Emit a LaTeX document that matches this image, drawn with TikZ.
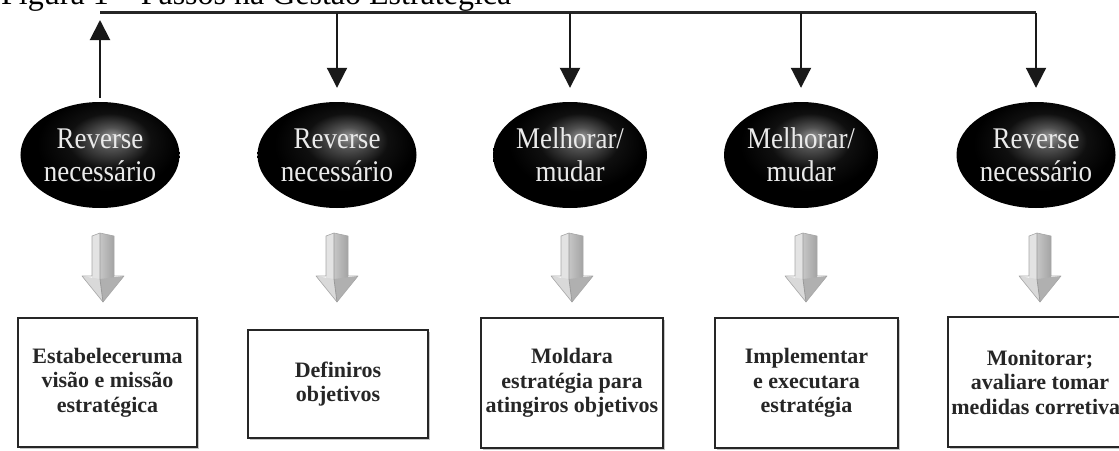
\documentclass[tikz,border=0pt]{standalone}
\usepackage{fontspec}
\setmainfont{Liberation Serif}
\newfontfamily\ovalfont[FakeStretch=0.9]{Liberation Serif}
\usetikzlibrary{arrows.meta,shapes.geometric,shadows}
\definecolor{ovaltext}{HTML}{EAEAEA}
\definecolor{boxtext}{HTML}{262626}
\pgfdeclareradialshading{ovalshade}{\pgfpoint{4bp}{9bp}}{color(0bp)=(black!42); color(5bp)=(black!68); color(13bp)=(black!94); color(22bp)=(black); color(50bp)=(black)}
\tikzset{
  oval/.style={ellipse, shade, shading=ovalshade, inner sep=0pt,
    minimum width=154pt, minimum height=106pt, text=ovaltext, align=center,
    font=\ovalfont\fontsize{30}{33}\selectfont},
  stepbox/.style={draw=black!85, line width=2pt, fill=white, align=center,
    inner sep=0pt, text=boxtext, font=\bfseries\fontsize{22}{24.5}\selectfont,
    drop shadow={shadow xshift=2pt, shadow yshift=-2pt, fill=black!45}},
  conn/.style={line width=2pt, draw=black!90, -{Triangle[length=20pt,width=20pt]}},
  topline/.style={line width=3pt, draw=black!85}
}
\newcommand\gradarrow[1]{%
  \begin{scope}[shift={(#1,-233)}]
    \fill[gray!22] (-11,-3) -- (-3,0) -- (-3,-46) -- (-11,-46) -- cycle;
    \shade[left color=gray!45, right color=gray!72] (-3,0) -- (11,-3) -- (11,-46) -- (-3,-46) -- cycle;
    \fill[gray!30] (-21,-43) -- (-3,-46) -- (0,-69) -- cycle;
    \fill[gray!62] (-3,-46) -- (21,-43) -- (0,-69) -- cycle;
    \draw[gray!70, line width=0.6pt, line join=round] (-11,-3) -- (-3,0) -- (11,-3) -- (11,-43) -- (21,-43) -- (0,-69) -- (-21,-43) -- (-11,-43) -- cycle;
    \draw[gray!80, line width=0.8pt] (-3,0) -- (-3,-46) -- (0,-69);
  \end{scope}}
\begin{document}
\begin{tikzpicture}[x=1pt,y=1pt]
\useasboundingbox (0,0) rectangle (1119,-450);
\clip (0,0) rectangle (1119,-450);
% title (cut at the top as in the reference)
\node[anchor=base west, inner sep=0pt, font=\fontsize{32}{36}\selectfont] (title) at (1,-4) {Figura 1 – Passos na Gestão Estratégica};
% ovals
\node[oval] (e1) at (100,-155) {Reverse\\necessário};
\node[oval] (e2) at (337,-155) {Reverse\\necessário};
\node[oval] (e3) at (570,-155) {Melhorar/\\mudar};
\node[oval] (e4) at (801,-155) {Melhorar/\\mudar};
\node[oval] (e5) at (1036,-155) {Reverse\\necessário};
% top feedback line
\coordinate (t1) at (100,-12.7);
\coordinate (t2) at (337,-12.7);
\coordinate (t3) at (570,-12.7);
\coordinate (t4) at (801,-12.7);
\coordinate (t5) at (1036,-12.7);
\coordinate (u1) at (100,-20);
\draw[topline] (t1) -- (t5);
\draw[conn, shorten <=4pt] (e1) -- (u1);
\draw[conn, shorten >=14pt] (t2) -- (e2);
\draw[conn, shorten >=14pt] (t3) -- (e3);
\draw[conn, shorten >=14pt] (t4) -- (e4);
\draw[conn, shorten >=14pt] (t5) -- (e5);
% block arrows
\gradarrow{103}
\gradarrow{337}
\gradarrow{572}
\gradarrow{806}
\gradarrow{1040}
% step boxes
\node[stepbox, minimum width=179pt, minimum height=129pt] (b1) at (107.5,-382.5) {Estabeleceruma\\visão e missão\\estratégica};
\node[stepbox, minimum width=180pt, minimum height=108pt] (b2) at (338,-384) {Definiros\\objetivos};
\node[stepbox, minimum width=182pt, minimum height=130pt] (b3) at (572,-383) {Moldara\\estratégia para\\atingiros objetivos};
\node[stepbox, minimum width=183pt, minimum height=130pt] (b4) at (806.5,-383) {Implementar\\e executara\\estratégia};
\node[stepbox, minimum width=184pt, minimum height=130pt] (b5) at (1040,-382) {Monitorar;\\avaliare tomar\\medidas corretivas};
\end{tikzpicture}
\end{document}
